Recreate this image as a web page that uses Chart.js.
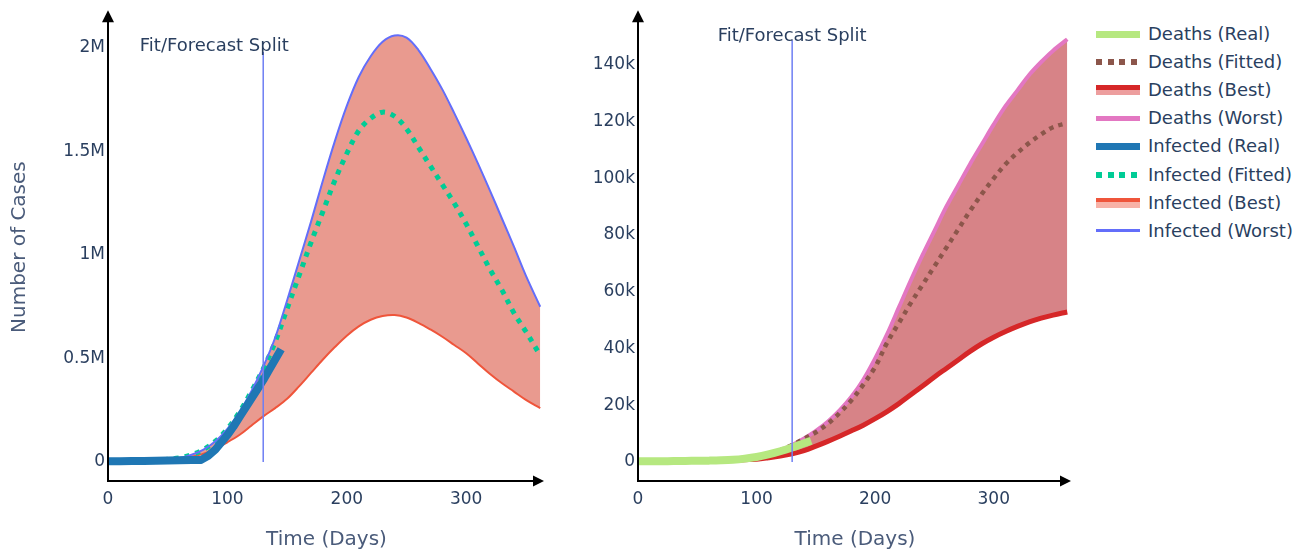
<!DOCTYPE html>
<html>
<head>
<meta charset="utf-8">
<title>Infected and Deaths Forecast</title>
<script src="https://cdn.jsdelivr.net/npm/chart.js@4.4.1/dist/chart.umd.min.js"></script>
<style>
  html, body { margin: 0; padding: 0; background: #fff; }
  #wrap { position: relative; width: 1310px; height: 555px; overflow: hidden; font-family: Verdana, "DejaVu Sans", sans-serif; }
  #infectedChart { position: absolute; left: 0; top: 0; }
  #deathsChart { position: absolute; left: 560px; top: 0; }
  #legend { position: absolute; left: 1096px; top: 20px; width: 214px; height: 240px; }
  .row { position: absolute; left: 0; width: 214px; height: 28px; }
  .swatch { position: absolute; left: 0; width: 44px; }
  .label { position: absolute; left: 52px; top: 0; line-height: 28px; font-size: 18px; color: #2a3f5f; white-space: nowrap; }
</style>
</head>
<body>
<div id="wrap">
  <canvas id="infectedChart" width="560" height="555"></canvas>
  <canvas id="deathsChart" width="530" height="555"></canvas>
  <div id="legend"></div>
</div>
<script>
// ---- data ----
// forecast curves share one day grid
const forecastDays = [0, 20, 40, 60, 70, 80, 90, 100, 110, 120, 130, 140, 150, 160, 170, 180, 190, 200,
  210, 220, 230, 240, 250, 260, 270, 280, 290, 300, 310, 320, 330, 340, 350, 362];

// infected, millions of cases
const infectedRealDays = [0, 10, 20, 30, 40, 50, 60, 70, 78, 84, 90, 95, 100, 105, 110, 115, 120, 125, 130, 135, 140, 145];
const infectedReal = [0.004, 0.004, 0.005, 0.005, 0.006, 0.007, 0.008, 0.009, 0.01, 0.03, 0.06, 0.095, 0.13, 0.17,
  0.215, 0.26, 0.305, 0.35, 0.395, 0.445, 0.495, 0.545];
const infectedFitted = [0.004, 0.005, 0.008, 0.02, 0.035, 0.06, 0.1, 0.16, 0.24, 0.34, 0.45, 0.58, 0.74, 0.9, 1.06,
  1.21, 1.36, 1.49, 1.6, 1.66, 1.69, 1.67, 1.61, 1.52, 1.43, 1.34, 1.25, 1.15, 1.04, 0.93, 0.83, 0.72, 0.63, 0.515];
const infectedBest = [0.004, 0.005, 0.007, 0.015, 0.025, 0.04, 0.065, 0.095, 0.13, 0.175, 0.22, 0.26, 0.305, 0.365,
  0.43, 0.495, 0.555, 0.61, 0.655, 0.687, 0.705, 0.71, 0.698, 0.672, 0.64, 0.605, 0.565, 0.525, 0.475, 0.425, 0.38, 0.34, 0.3, 0.26];
const infectedWorst = [0.005, 0.006, 0.008, 0.02, 0.035, 0.06, 0.1, 0.16, 0.24, 0.34, 0.46, 0.6, 0.78, 0.97, 1.16,
  1.36, 1.55, 1.72, 1.86, 1.96, 2.03, 2.06, 2.05, 1.99, 1.9, 1.8, 1.685, 1.565, 1.44, 1.31, 1.175, 1.04, 0.9, 0.75];

// deaths, thousands
const deathsRealDays = [0, 10, 20, 30, 40, 50, 60, 70, 80, 90, 100, 110, 120, 130, 140, 146];
const deathsReal = [0.3, 0.3, 0.3, 0.35, 0.4, 0.45, 0.5, 0.6, 0.8, 1.2, 1.8, 2.7, 3.8, 5.1, 6.6, 7.5];
const deathsFitted = [0.3, 0.3, 0.4, 0.5, 0.6, 0.8, 1.2, 1.9, 2.9, 4.2, 6.0, 8.2, 10.5, 13.5, 17.3, 21.8, 27.3, 33.5,
  42, 49, 56, 62.5, 69, 75.5, 82, 88.5, 94.5, 100, 105, 109, 112.5, 115.5, 118, 119.5];
const deathsBest = [0.3, 0.3, 0.35, 0.4, 0.5, 0.6, 0.8, 1.0, 1.5, 2.1, 2.9, 4.0, 5.6, 7.3, 9.1, 11.0, 13.0, 15.3,
  17.8, 20.6, 23.7, 26.8, 30, 33, 36, 39, 41.7, 44, 46, 47.8, 49.4, 50.7, 51.8, 52.9];
const deathsWorst = [0.3, 0.3, 0.4, 0.5, 0.6, 0.8, 1.2, 1.9, 2.9, 4.2, 6.0, 8.3, 11, 14.2, 18.2, 23, 29, 36.5,
  45, 54.5, 64, 73, 81.5, 90, 97.5, 105, 112, 119, 125.5, 131, 136.5, 141, 145, 149];

// fit / forecast split marker
const splitDay = 130;
const splitTopInfected = 1.98;
const splitTopDeaths = 148.7;
const splitText = 'Fit/Forecast Split';
const splitLabelInfected = { day: 89, value: 2.01 };
const splitLabelDeaths = { day: 130, value: 150 };

// axes
const dayTicks = [0, 100, 200, 300];
const infectedTicks = [0, 0.5, 1, 1.5, 2];
const infectedTickLabels = ['0', '0.5M', '1M', '1.5M', '2M'];
const deathsTicks = [0, 20, 40, 60, 80, 100, 120, 140];
const deathsTickLabels = ['0', '20k', '40k', '60k', '80k', '100k', '120k', '140k'];

const legendNames = ['Deaths (Real)', 'Deaths (Fitted)', 'Deaths (Best)', 'Deaths (Worst)',
  'Infected (Real)', 'Infected (Fitted)', 'Infected (Best)', 'Infected (Worst)'];

// ---- styling ----
const C = {
  deathsReal: '#b6e880',
  deathsFitted: '#8c564b',
  deathsBest: '#d62728',
  deathsWorst: '#e377c2',
  infectedReal: '#1f77b4',
  infectedFitted: '#00cc96',
  infectedBest: '#ef553b',
  infectedWorst: '#636efa',
  split: '#6e7ff3',
  text: '#2a3f5f',
  title: '#4a5b7a',
};
const FONT = 'Verdana, "DejaVu Sans", sans-serif';

function pts(days, vals) {
  return days.map(function (d, i) { return { x: d, y: vals[i] }; });
}

function line(label, days, vals, color, width, extra) {
  return Object.assign({
    label: label,
    data: pts(days, vals),
    borderColor: color,
    backgroundColor: color,
    borderWidth: width,
    pointRadius: 0,
    fill: false,
    tension: 0.35,
  }, extra || {});
}

// black axes with arrow heads, drawn over the data
const axisArrows = {
  id: 'axisArrows',
  afterDatasetsDraw(chart) {
    const ctx = chart.ctx;
    const a = chart.chartArea;
    ctx.save();
    ctx.strokeStyle = '#000';
    ctx.fillStyle = '#000';
    ctx.lineWidth = 2;
    ctx.beginPath();
    ctx.moveTo(a.left, a.bottom);
    ctx.lineTo(a.left, a.top + 6);
    ctx.moveTo(a.left - 1, a.bottom);
    ctx.lineTo(a.right - 8, a.bottom);
    ctx.stroke();

    ctx.beginPath();
    ctx.moveTo(a.left, a.top - 3);
    ctx.lineTo(a.left - 6, a.top + 9);
    ctx.lineTo(a.left + 6, a.top + 9);
    ctx.closePath();
    ctx.fill();

    ctx.beginPath();
    ctx.moveTo(a.right - 1, a.bottom);
    ctx.lineTo(a.right - 12, a.bottom - 5.5);
    ctx.lineTo(a.right - 12, a.bottom + 5.5);
    ctx.closePath();
    ctx.fill();
    ctx.restore();
  }
};

// "Fit/Forecast Split" caption
const splitCaption = {
  id: 'splitCaption',
  afterDraw(chart, args, opts) {
    if (!opts || opts.day === undefined) return;
    const ctx = chart.ctx;
    const x = chart.scales.x.getPixelForValue(opts.day);
    const y = chart.scales.y.getPixelForValue(opts.value);
    ctx.save();
    ctx.font = '18px ' + FONT;
    ctx.fillStyle = C.text;
    ctx.textAlign = 'center';
    ctx.textBaseline = 'middle';
    ctx.fillText(splitText, x, y);
    ctx.restore();
  }
};

function buildOptions(cfg) {
  return {
    responsive: false,
    animation: false,
    events: [],
    layout: { padding: { left: 0, right: cfg.padRight, top: 12, bottom: 0 } },
    plugins: {
      legend: { display: false },
      tooltip: { enabled: false },
      splitCaption: cfg.caption,
    },
    scales: {
      x: {
        type: 'linear',
        min: 0,
        max: 366,
        border: { display: false },
        grid: { display: false, drawTicks: false },
        afterBuildTicks: function (s) { s.ticks = dayTicks.map(function (v) { return { value: v }; }); },
        afterFit: function (s) { s.height = 74; },
        ticks: { padding: 8, color: C.text, font: { family: FONT, size: 17 }, maxRotation: 0 },
        title: {
          display: true,
          text: 'Time (Days)',
          color: C.title,
          font: { family: FONT, size: 20 },
          padding: { top: 0, bottom: 3 },
        },
      },
      y: {
        type: 'linear',
        min: cfg.yMin,
        max: cfg.yMax,
        border: { display: false },
        grid: { display: false, drawTicks: false },
        afterBuildTicks: function (s) { s.ticks = cfg.ticks.map(function (v) { return { value: v }; }); },
        afterFit: function (s) { s.width = cfg.yWidth; },
        ticks: {
          padding: 3,
          color: C.text,
          font: { family: FONT, size: 17 },
          callback: function (v) {
            const i = cfg.ticks.indexOf(v);
            return i >= 0 ? cfg.tickLabels[i] : '';
          },
        },
        title: {
          display: !!cfg.yTitle,
          text: cfg.yTitle || '',
          color: C.title,
          font: { family: FONT, size: 20 },
          padding: { top: 8, bottom: 0 },
        },
      },
    },
  };
}

// ---- infected chart ----
new Chart(document.getElementById('infectedChart'), {
  type: 'line',
  data: {
    datasets: [
      line('Infected (Real)', infectedRealDays, infectedReal, C.infectedReal, 8,
        { order: 0, tension: 0, borderJoinStyle: 'round' }),
      line('Infected (Fitted)', forecastDays, infectedFitted, C.infectedFitted, 5,
        { order: 3, borderDash: [5, 6] }),
      line('Infected (Best)', forecastDays, infectedBest, C.infectedBest, 2,
        { order: 4, fill: 3, backgroundColor: 'rgba(225, 120, 105, 0.75)' }),
      line('Infected (Worst)', forecastDays, infectedWorst, C.infectedWorst, 2, { order: 2 }),
      line('split', [splitDay, splitDay], [0, splitTopInfected], C.split, 1.5,
        { order: -1, tension: 0 }),
    ],
  },
  options: buildOptions({
    padRight: 15,
    yMin: -0.092,
    yMax: 2.168,
    yWidth: 108,
    ticks: infectedTicks,
    tickLabels: infectedTickLabels,
    yTitle: 'Number of Cases',
    caption: splitLabelInfected,
  }),
  plugins: [axisArrows, splitCaption],
});

// ---- deaths chart ----
new Chart(document.getElementById('deathsChart'), {
  type: 'line',
  data: {
    datasets: [
      line('Deaths (Real)', deathsRealDays, deathsReal, C.deathsReal, 8, { order: 0 }),
      line('Deaths (Fitted)', forecastDays, deathsFitted, C.deathsFitted, 4.5,
        { order: 2, borderDash: [4.5, 5] }),
      line('Deaths (Best)', forecastDays, deathsBest, C.deathsBest, 5,
        { order: 4, fill: 3, backgroundColor: 'rgba(205, 100, 105, 0.8)' }),
      line('Deaths (Worst)', forecastDays, deathsWorst, C.deathsWorst, 4, { order: 3 }),
      line('split', [splitDay, splitDay], [0, splitTopDeaths], C.split, 1.5,
        { order: -1, tension: 0 }),
    ],
  },
  options: buildOptions({
    padRight: 18,
    yMin: -6.68,
    yMax: 158.2,
    yWidth: 78,
    ticks: deathsTicks,
    tickLabels: deathsTickLabels,
    yTitle: '',
    caption: splitLabelDeaths,
  }),
  plugins: [axisArrows, splitCaption],
});

// ---- legend ----
const swatches = [
  [{ h: 7, bg: C.deathsReal }],
  [{ h: 6, bg: 'repeating-linear-gradient(90deg, ' + C.deathsFitted + ' 0 6px, transparent 6px 11.7px)' }],
  [{ h: 5, bg: C.deathsBest }, { h: 5, bg: 'rgba(214, 39, 40, 0.45)' }],
  [{ h: 5, bg: C.deathsWorst }],
  [{ h: 7, bg: C.infectedReal }],
  [{ h: 6, bg: 'repeating-linear-gradient(90deg, ' + C.infectedFitted + ' 0 6px, transparent 6px 11.7px)' }],
  [{ h: 4, bg: C.infectedBest }, { h: 6, bg: 'rgba(239, 85, 59, 0.45)' }],
  [{ h: 2.5, bg: C.infectedWorst }],
];
const legendEl = document.getElementById('legend');
legendNames.forEach(function (name, i) {
  const row = document.createElement('div');
  row.className = 'row';
  row.style.top = (i * 28.1) + 'px';
  const parts = swatches[i];
  const total = parts.reduce(function (s, p) { return s + p.h; }, 0);
  let y = 14 - total / 2;
  parts.forEach(function (p) {
    const sw = document.createElement('div');
    sw.className = 'swatch';
    sw.style.top = y + 'px';
    sw.style.height = p.h + 'px';
    sw.style.background = p.bg;
    row.appendChild(sw);
    y += p.h;
  });
  const label = document.createElement('div');
  label.className = 'label';
  label.textContent = name;
  row.appendChild(label);
  legendEl.appendChild(row);
});
</script>
</body>
</html>
